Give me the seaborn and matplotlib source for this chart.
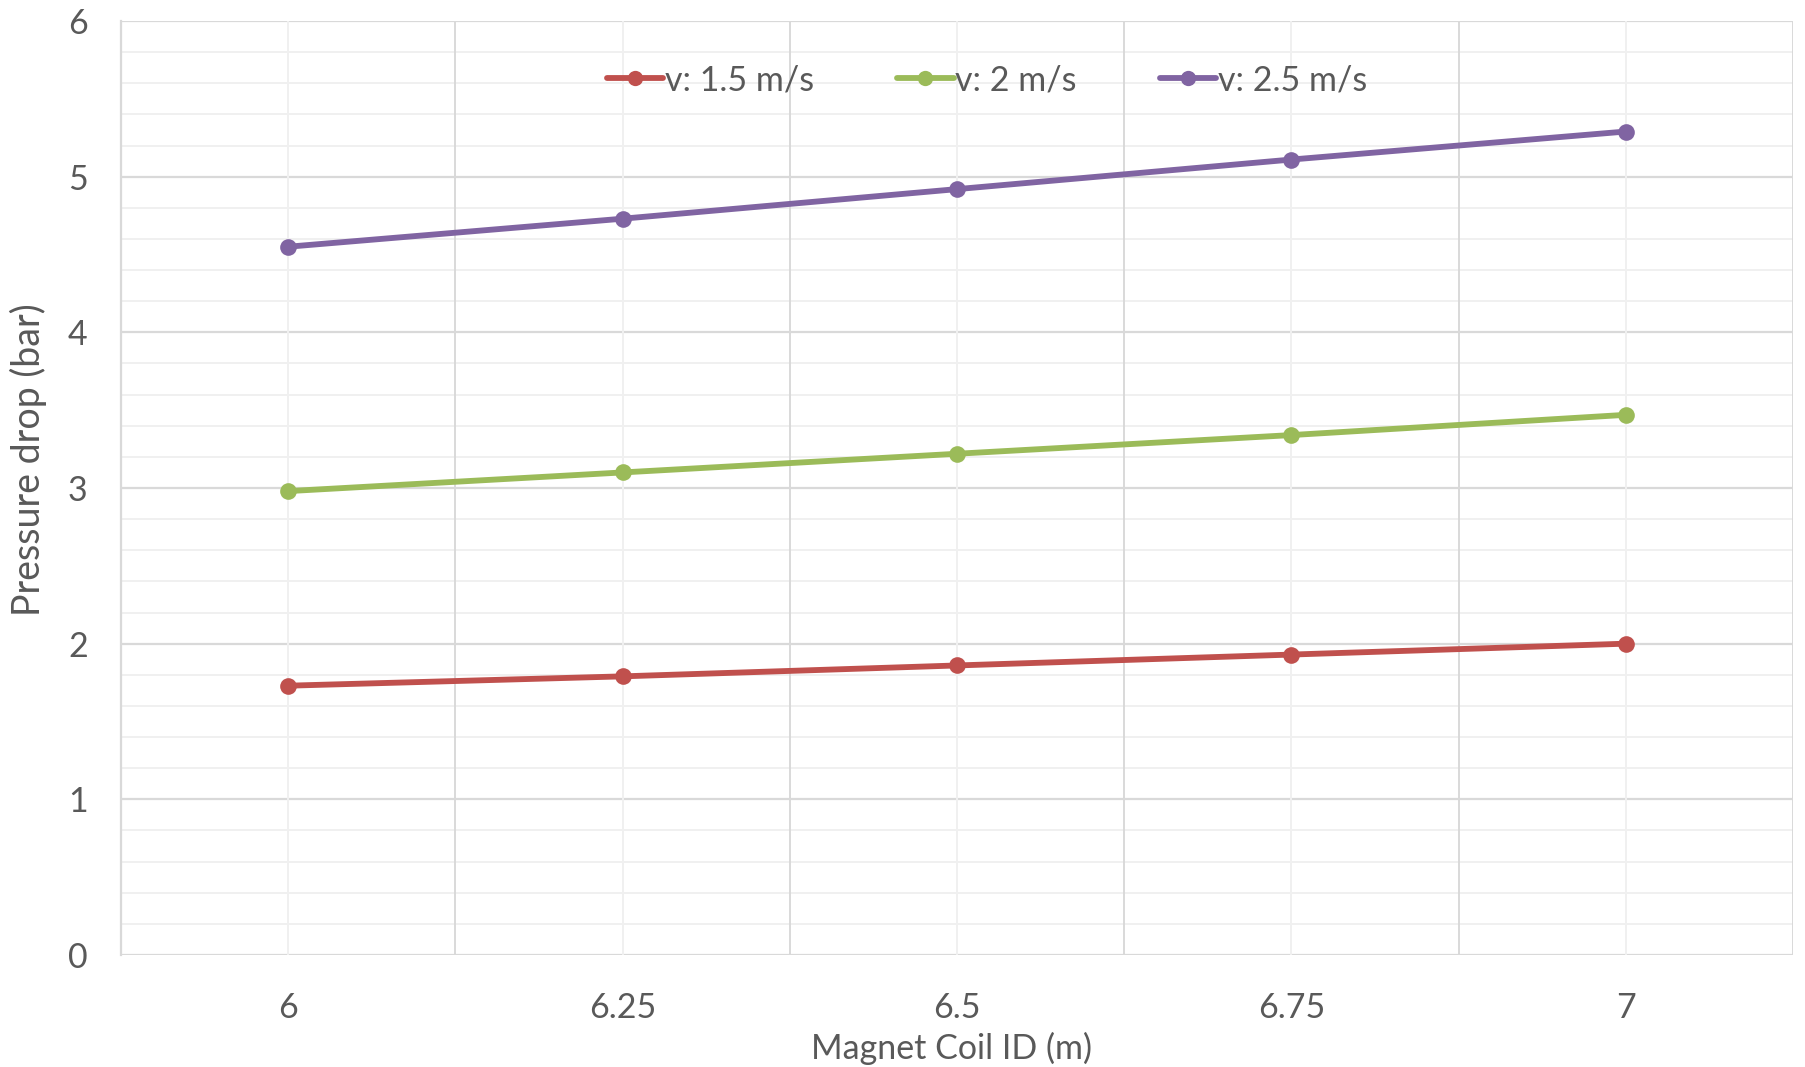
import matplotlib
matplotlib.use("Agg")
import matplotlib.pyplot as plt
import seaborn as sns
import pandas as pd
import numpy as np
from matplotlib.ticker import MultipleLocator, FixedLocator
from matplotlib.lines import Line2D

coil_id = ["6", "6.25", "6.5", "6.75", "7"]
dp_v15 = [1.73, 1.79, 1.86, 1.93, 2.00]
dp_v20 = [2.98, 3.10, 3.22, 3.34, 3.47]
dp_v25 = [4.55, 4.73, 4.92, 5.11, 5.29]
series_names = ["v: 1.5 m/s", "v: 2 m/s", "v: 2.5 m/s"]
colors = ["#C0504D", "#9BBB59", "#8064A2"]

rows = []
for name, vals in zip(series_names, [dp_v15, dp_v20, dp_v25]):
    for x, v in zip(coil_id, vals):
        rows.append({"Magnet Coil ID (m)": x, "Pressure drop (bar)": v, "series": name})
df = pd.DataFrame(rows)

sns.set_theme(style="white")
plt.rcParams['font.family'] = ['Lato', 'DejaVu Sans']
text_color = "#595959"
fs = 24.5
LW = 4.2
MS = 12

fig = plt.figure(figsize=(18.06, 10.67), dpi=100)
ax = fig.add_axes([121/1806, 1-955/1067, (1793-121)/1806, (955-21)/1067])

n_before = len(ax.lines)
sns.lineplot(data=df, x="Magnet Coil ID (m)", y="Pressure drop (bar)", hue="series",
             hue_order=series_names, palette=colors, marker="o",
             ax=ax, sort=False, zorder=3, legend=False)
for ln in ax.lines[n_before:]:
    ln.set_linewidth(LW)
    ln.set_markersize(MS)
    ln.set_markeredgewidth(0)
    ln.set_solid_capstyle("butt")

ax.set_xlim(-0.5, 4.5)
ax.set_ylim(0, 6)
ax.yaxis.set_major_locator(MultipleLocator(1))
ax.xaxis.set_major_locator(FixedLocator(range(len(coil_id))))
ax.set_xticklabels(coil_id)

ax.grid(False)
for yv in np.arange(0, 6.01, 0.2):
    major = abs(yv - round(yv)) < 1e-6
    ax.axhline(yv, color="#D9D9D9" if major else "#F0F0F0", lw=1.6 if major else 1.4, zorder=1)
for i in range(len(coil_id)):
    ax.axvline(i, color="#F0F0F0", lw=1.4, zorder=1)
for xb in np.arange(-0.5, len(coil_id), 1.0):
    ax.axvline(xb, color="#D9D9D9", lw=1.4, zorder=1)

for s in ax.spines.values():
    s.set_visible(False)
ax.spines["left"].set_visible(True)
ax.spines["left"].set_color("#D9D9D9")
ax.spines["left"].set_linewidth(1.6)

ax.tick_params(axis="both", which="both", length=0, colors=text_color, labelsize=fs)
ax.tick_params(axis="x", pad=27)
ax.tick_params(axis="y", pad=24)
ax.set_xlabel("Magnet Coil ID (m)", fontsize=fs, color=text_color)
ax.xaxis.set_label_coords(0.497, -0.082)
ax.set_ylabel("Pressure drop (bar)", fontsize=27, color=text_color, va="center")
ax.yaxis.set_label_coords(-(121 - 28) / 1672, 0.53)

handles = [Line2D([], [], color=c, lw=LW, marker="o", markersize=MS - 1, markeredgewidth=0,
                  solid_capstyle="round") for c in colors]
leg = ax.legend(handles, series_names, loc="center", bbox_to_anchor=(0.518, 1 - (80 - 21) / 934),
                ncol=3, frameon=False, fontsize=fs, handlelength=1.65, handletextpad=0.05,
                columnspacing=2.45)
for t in leg.get_texts():
    t.set_color(text_color)

fig.savefig("out.png", dpi=100, facecolor="white")
